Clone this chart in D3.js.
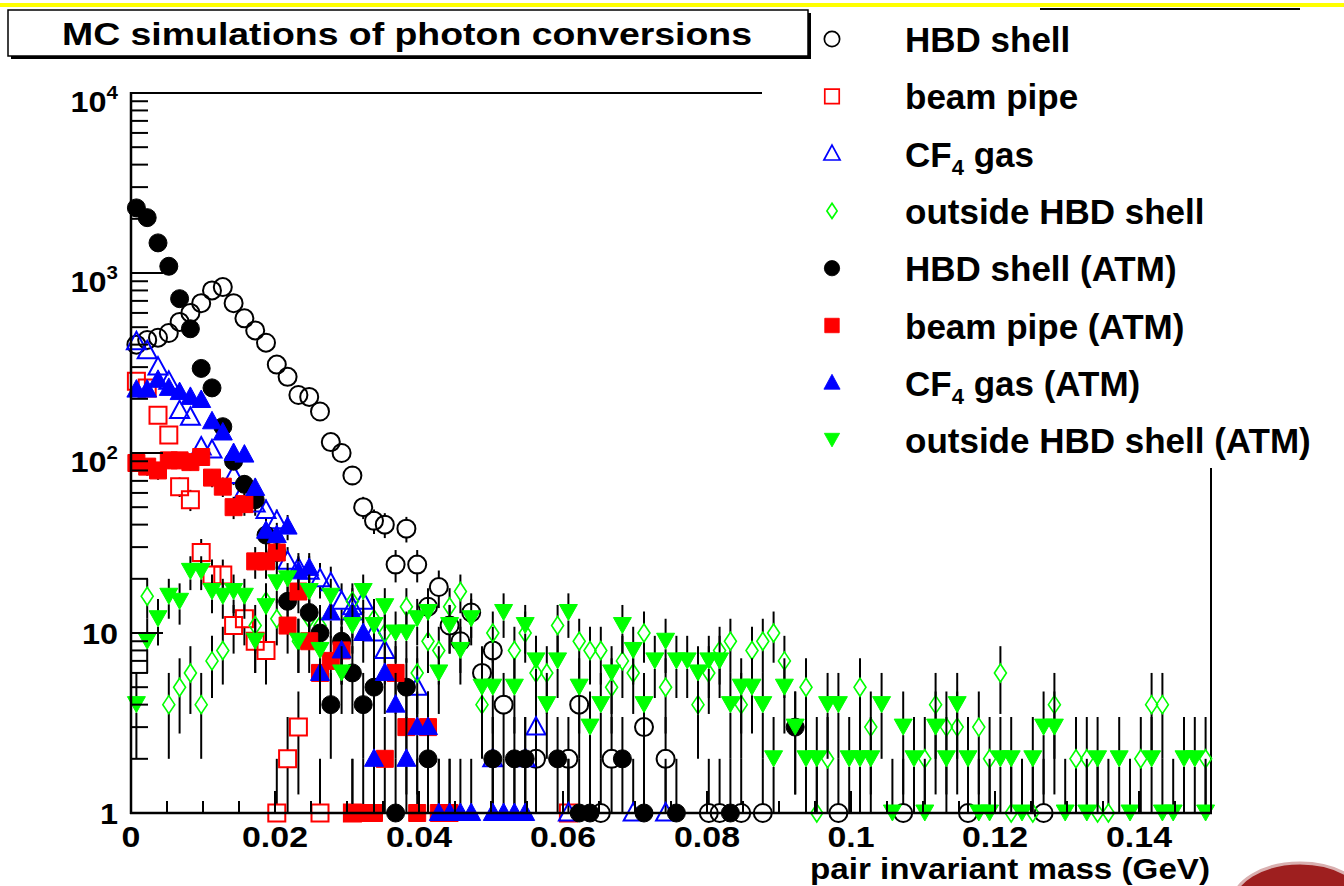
<!DOCTYPE html>
<html>
<head>
<meta charset="utf-8">
<script src="https://cdn.jsdelivr.net/npm/d3@7"></script>
<style>
  body { margin: 0; background: #fff; }
  svg { display: block; font-family: "Liberation Sans", Arial, sans-serif; font-weight: bold; }
</style>
</head>
<body>
<svg id="chart" width="1344" height="886"></svg>
<script>
// histogram: 100 bins of 1.5 MeV from 0 to 0.15 GeV, counts per bin (0 = empty)
const binWidth = 0.0015;

const hbdShell = [
  400,425,437,464,535,600,680,800,835,680, 560,480,410,310,265,210,205,170,115,100,
  75,50,42,40,24,38,24,14,18,11, 9,13,6,8,4,0,0,2,0,0,
  2,4,0,1,2,0,0,3,0,2, 0,0,0,1,1,0,1,0,1,0,
  0,0,0,0,0,1,0,0,0,0, 0,1,0,0,0,0,0,1,0,0,
  0,0,0,0,1,0,0,0,0,0, 0,0,0,0,0,0,0,0,0,0];
const beamPipe = [
  250,230,162,126,65,55,28,21,21,11, 12,9,8,1,2,3,0,1,0,0,
  1,0,0,0,0,0,0,0,0,0, 0,0,0,0,0,0,0,0,0,0,
  1,0,0,0,0,0,0,0,0,0, 0,0,0,0,0,0,0,0,0,0,
  0,0,0,0,0,0,0,0,0,0, 0,0,0,0,0,0,0,0,0,0,
  0,0,0,0,0,0,0,0,0,0, 0,0,0,0,0,0,0,0,0,0];
const cf4Gas = [
  415,370,300,250,172,158,108,104,0,75, 62,52,48,42,25,23,22,20,19,15,
  14,15,10,8,0,0,5,0,0,0, 0,0,0,2,0,0,2,3,0,0,
  1,0,0,0,0,0,1,0,0,1, 0,0,0,0,0,0,0,0,0,0,
  0,0,0,0,0,0,0,0,0,0, 0,0,0,0,0,0,0,0,0,0,
  0,0,0,0,0,0,0,0,0,0, 0,0,0,0,0,0,0,0,0,0];
const outsideShell = [
  0,16,0,4,5,6,4,7,8,0, 0,11,15,12,0,9,12,11,0,0,
  15,0,12,10,0,14,6,9,8,14, 17,0,4,10,0,8,10,6,6,11,
  0,9,8,8,5,7,6,10,0,5, 0,0,4,6,8,9,4,8,9,10,
  7,0,5,1,2,0,0,5,3,0, 0,0,0,2,4,3,3,0,3,2,
  6,1,0,1,0,4,0,2,2,1, 1,0,0,2,4,4,0,0,0,2];
const hbdShellAtm = [
  2300,2030,1470,1090,720,490,295,230,140,90, 67,55,35,28,15,0,13,10,4,9,
  6,4,5,0,1,5,0,2,0,0, 0,0,0,2,0,2,2,0,0,2,
  0,1,1,0,0,2,0,1,0,0, 1,0,0,0,0,1,0,0,0,0,
  0,3,0,0,0,0,0,0,0,0, 0,0,0,0,0,0,0,0,0,0,
  0,0,0,0,0,0,0,0,0,0, 0,0,0,0,0,0,0,0,0,0];
const beamPipeAtm = [
  88,84,80,91,91,89,95,73,65,50, 52,25,25,28,11,17,9,6,7,8,
  1,1,1,2,6,3,1,3,1,1, 0,0,0,0,0,0,0,0,0,0,
  0,0,0,0,0,0,0,0,0,0, 0,0,0,0,0,0,0,0,0,0,
  0,0,0,0,0,0,0,0,0,0, 0,0,0,0,0,0,0,0,0,0,
  0,0,0,0,0,0,0,0,0,0, 0,0,0,0,0,0,0,0,0,0];
const cf4GasAtm = [
  225,225,255,230,218,205,197,150,130,100, 98,64,37,35,39,22,23,6,13,8,
  13,10,2,6,4,2,3,3,1,1, 1,1,0,1,1,1,1,0,0,0,
  0,0,0,0,0,0,0,0,0,0, 0,0,0,0,0,0,0,0,0,0,
  0,0,0,0,0,0,0,0,0,0, 0,0,0,0,0,0,0,0,0,0,
  0,0,0,0,0,0,0,0,0,0, 0,0,0,0,0,0,0,0,0,0];
const outsideShellAtm = [
  4,9,12,16,15,22,22,17,16,17, 16,9,14,19,20,9,17,8,16,6,
  11,17,11,14,10,10,12,13,6,11, 8,12,5,5,13,5,11,7,4,7,
  13,5,3,4,6,11,8,4,7,9, 7,7,6,7,7,4,5,5,4,2,
  5,3,2,2,4,4,2,2,2,4, 1,3,2,1,3,2,4,2,1,1,
  2,2,1,2,3,3,1,0,1,2, 0,2,1,0,2,1,1,2,2,1];

const seriesNames = ["HBD shell", "beam pipe", "CF4 gas", "outside HBD shell",
  "HBD shell (ATM)", "beam pipe (ATM)", "CF4 gas (ATM)", "outside HBD shell (ATM)"];
const seriesValues = [hbdShell, beamPipe, cf4Gas, outsideShell,
  hbdShellAtm, beamPipeAtm, cf4GasAtm, outsideShellAtm];
const seriesMarkers = ["circle", "square", "triangle", "diamond",
  "circle", "square", "triangle", "triangleDown"];
const seriesFilled = [false, false, false, false, true, true, true, true];
const seriesColors = ["#000000", "#ff0000", "#0000ff", "#00ff00",
  "#000000", "#ff0000", "#0000ff", "#00ff00"];

const xTickValues = [0, 0.02, 0.04, 0.06, 0.08, 0.1, 0.12, 0.14];
const xTickLabels = ["0", "0.02", "0.04", "0.06", "0.08", "0.1", "0.12", "0.14"];
const yDecades = [1, 10, 100, 1000, 10000];
const yDecadeLabels = [["1", ""], ["10", ""], ["10", "2"], ["10", "3"], ["10", "4"]];

const titleText = "MC simulations of photon conversions";
const xTitle = "pair invariant mass (GeV)";

const svg = d3.select("#chart");

const x = d3.scaleLinear().domain([0, 0.15]).range([131, 1211]);
const y = d3.scaleLog().domain([1, 1e4]).range([813, 93]);

function markerPath(type) {
  if (type === "circle") return "M9,0A9,9 0 1,1 -9,0A9,9 0 1,1 9,0Z";
  if (type === "square") return "M-8.5,-8.5H8.5V8.5H-8.5Z";
  if (type === "triangle") return "M0,-10L9.5,7.5L-9.5,7.5Z";
  if (type === "triangleDown") return "M0,8L9,-8L-9,-8Z";
  if (type === "diamond") return "M0,-9L6,0L0,9L-6,0Z";
}

// top yellow stripe and bits of the slide
svg.append("rect").attr("x", 0).attr("y", 3).attr("width", 1344).attr("height", 4).attr("fill", "#ffff00");
svg.append("line").attr("x1", 1040).attr("x2", 1300).attr("y1", 9).attr("y2", 9)
  .attr("stroke", "#000").attr("stroke-width", 2);

// frame
const frame = svg.append("g");
frame.append("line").attr("x1", 131).attr("x2", 1211).attr("y1", 93).attr("y2", 93)
  .attr("stroke", "#000").attr("stroke-width", 2);
frame.append("line").attr("x1", 1211).attr("x2", 1211).attr("y1", 93).attr("y2", 813)
  .attr("stroke", "#000").attr("stroke-width", 2);

// data: error bars, then markers, series by series
const plot = svg.append("g");
seriesValues.forEach(function (vals, s) {
  const pts = [];
  vals.forEach(function (v, i) {
    if (v > 0) pts.push({ x: (i + 0.5) * binWidth, v: v });
  });
  const g = plot.append("g");
  const gap = 8;
  pts.forEach(function (d) {
    const err = Math.sqrt(d.v);
    const yv = y(d.v);
    const yHi = y(Math.min(d.v + err, 1e4));
    const yLo = y(Math.max(d.v - err, 1));
    const px = x(d.x);
    if (yv - gap - yHi > 0.5) {
      g.append("line").attr("x1", px).attr("x2", px).attr("y1", yHi).attr("y2", yv - gap)
        .attr("stroke", "#000").attr("stroke-width", 2);
    }
    if (yLo - (yv + gap) > 0.5) {
      g.append("line").attr("x1", px).attr("x2", px).attr("y1", yv + gap).attr("y2", yLo)
        .attr("stroke", "#000").attr("stroke-width", 2);
    }
  });
  g.selectAll("path.m")
    .data(pts)
    .join("path")
    .attr("class", "m")
    .attr("d", markerPath(seriesMarkers[s]))
    .attr("transform", function (d) { return `translate(${x(d.x)},${y(d.v)})`; })
    .attr("fill", seriesFilled[s] ? seriesColors[s] : "none")
    .attr("stroke", seriesColors[s])
    .attr("stroke-width", seriesFilled[s] ? 1 : (seriesMarkers[s] === "diamond" ? 1.6 : 2));
});

// axes
const axes = svg.append("g");
axes.append("line").attr("x1", 131).attr("x2", 131).attr("y1", 92).attr("y2", 814)
  .attr("stroke", "#000").attr("stroke-width", 2.5);
axes.append("line").attr("x1", 130).attr("x2", 1212).attr("y1", 813).attr("y2", 813)
  .attr("stroke", "#000").attr("stroke-width", 2.5);

// x ticks every 0.005, longer at 0.02
d3.range(0, 31).forEach(function (k) {
  const v = k * 0.005;
  const len = (k % 4 === 0) ? 22 : 12;
  axes.append("line").attr("x1", x(v)).attr("x2", x(v)).attr("y1", 813).attr("y2", 813 - len)
    .attr("stroke", "#000").attr("stroke-width", 2);
});
axes.selectAll("text.xl")
  .data(xTickValues)
  .join("text")
  .attr("class", "xl")
  .attr("transform", function (d) { return `translate(${x(d)},847) scale(1.13,1)`; })
  .attr("text-anchor", "middle")
  .attr("font-size", 30)
  .text(function (d, i) { return xTickLabels[i]; });

// y ticks (log)
yDecades.forEach(function (dec, i) {
  if (dec < 1e4) {
    axes.append("line").attr("x1", 131).attr("x2", 131 + 32).attr("y1", y(dec)).attr("y2", y(dec))
      .attr("stroke", "#000").attr("stroke-width", 2);
    for (let m = 2; m <= 9; m++) {
      axes.append("line").attr("x1", 131).attr("x2", 131 + 17)
        .attr("y1", y(dec * m)).attr("y2", y(dec * m))
        .attr("stroke", "#000").attr("stroke-width", 2);
    }
  }
  const lab = yDecadeLabels[i];
  const t = axes.append("text")
    .attr("transform", `translate(118,${y(dec) + (lab[1] ? 19 : 11)}) scale(1.08,1)`)
    .attr("text-anchor", "end")
    .attr("font-size", 30);
  t.append("tspan").text(lab[0]);
  if (lab[1]) {
    t.append("tspan").attr("font-size", 19).attr("dy", -13).text(lab[1]);
  }
});

svg.append("text")
  .attr("x", 810).attr("y", 879)
  .attr("textLength", 400)
  .attr("lengthAdjust", "spacingAndGlyphs")
  .attr("font-size", 30)
  .text(xTitle);

// legend (white box over the top right of the frame)
svg.append("rect").attr("x", 762).attr("y", 10).attr("width", 582).attr("height", 458).attr("fill", "#fff");
const legend = svg.append("g");
seriesNames.forEach(function (name, i) {
  const ry = 39 + i * 57.3;
  legend.append("path")
    .attr("d", markerPath(seriesMarkers[i]))
    .attr("transform", `translate(832,${ry}) scale(0.85)`)
    .attr("fill", seriesFilled[i] ? seriesColors[i] : "none")
    .attr("stroke", seriesColors[i])
    .attr("stroke-width", seriesFilled[i] ? 1 : 2);
  const t = legend.append("text").attr("x", 905).attr("y", ry + 13).attr("font-size", 35);
  if (name.startsWith("CF4")) {
    t.append("tspan").text("CF");
    t.append("tspan").attr("font-size", 22).attr("dy", 8).text("4");
    t.append("tspan").attr("dy", -8).text(name.slice(3));
  } else {
    t.text(name);
  }
});

// title box with shadow
const tb = svg.append("g");
tb.append("rect").attr("x", 11).attr("y", 13).attr("width", 800).attr("height", 46).attr("fill", "#000");
tb.append("rect").attr("x", 8).attr("y", 10).attr("width", 800).attr("height", 46)
  .attr("fill", "#fff").attr("stroke", "#000").attr("stroke-width", 1.5);
tb.append("text").attr("x", 62).attr("y", 45)
  .attr("textLength", 690)
  .attr("lengthAdjust", "spacingAndGlyphs")
  .attr("font-size", 32).text(titleText);

// corner of a logo at the bottom right
svg.append("ellipse").attr("cx", 1300).attr("cy", 905).attr("rx", 68).attr("ry", 42)
  .attr("fill", "#9e1f1f").attr("stroke", "#d9b0b0").attr("stroke-width", 3);
</script>
</body>
</html>
